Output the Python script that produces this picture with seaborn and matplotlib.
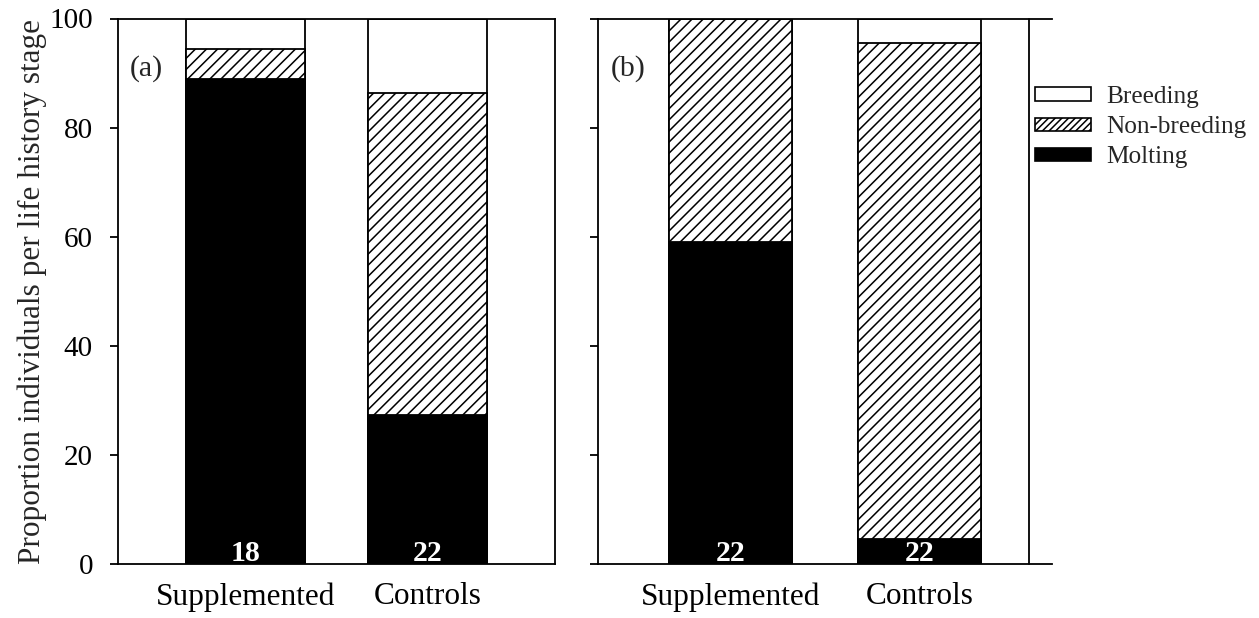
import matplotlib
matplotlib.use("Agg")
import matplotlib.pyplot as plt
import matplotlib.patches as mpatches
import numpy as np
import pandas as pd
import seaborn as sns

# Data (percent of individuals per life history stage)
groups = ["Supplemented", "Controls"]
molting_a = [88.9, 27.3]
nonbreeding_a = [5.5, 59.1]
breeding_a = [5.6, 13.6]
n_a = [18, 22]

molting_b = [59.1, 4.5]
nonbreeding_b = [40.9, 91.0]
breeding_b = [0.0, 4.5]
n_b = [22, 22]

panel_labels = ["(a)", "(b)"]
stages = ["Breeding", "Non-breeding", "Molting"]
y_ticks = [0, 20, 40, 60, 80, 100]

sns.set_theme(style="white")
plt.rcParams["font.family"] = ["Liberation Serif", "DejaVu Serif"]
plt.rcParams["hatch.color"] = "black"
plt.rcParams["hatch.linewidth"] = 1.1

fig = plt.figure(figsize=(12.59, 6.18), dpi=100)
ax_a = fig.add_axes([118 / 1259, 54 / 618, 437 / 1259, 545.5 / 618])
ax_b = fig.add_axes([598 / 1259, 54 / 618, 454 / 1259, 545.5 / 618])


def draw_panel(ax, molting, nonbreeding, breeding, counts, label):
    df = pd.DataFrame({
        "group": groups,
        "molting": molting,
        "nonbreeding": nonbreeding,
        "breeding": breeding,
    })
    df["cum_nb"] = df["molting"] + df["nonbreeding"]
    df["cum_all"] = df["cum_nb"] + df["breeding"]

    common = dict(x="group", order=groups, width=0.65, saturation=1,
                  edgecolor="black", linewidth=1.3, ax=ax)
    sns.barplot(data=df, y="cum_all", color="white", **common)
    sns.barplot(data=df, y="cum_nb", color="white", hatch="///", **common)
    sns.barplot(data=df, y="molting", color="black", **common)

    for i, n in enumerate(counts):
        ax.text(i, 0.6, str(n), ha="center", va="baseline", color="white",
                fontsize=21.5, fontweight="bold")

    ax.text(0.027, 0.908, label, transform=ax.transAxes, fontsize=21.5,
            ha="left", va="center")

    ax.set_xlim(-0.70, 1.70)
    ax.set_ylim(0, 100)
    ax.set_yticks(y_ticks)
    ax.set_xlabel("")
    ax.set_ylabel("")
    for side in ["top", "bottom", "left", "right"]:
        ax.spines[side].set_visible(True)
        ax.spines[side].set_color("black")
        ax.spines[side].set_linewidth(1.3)
    ax.tick_params(axis="y", direction="out", length=6, width=1.3,
                   labelsize=21, pad=12, left=True, colors="black")
    ax.tick_params(axis="x", length=0, labelsize=22.5, pad=13, colors="black")


draw_panel(ax_a, molting_a, nonbreeding_a, breeding_a, n_a, panel_labels[0])
draw_panel(ax_b, molting_b, nonbreeding_b, breeding_b, n_b, panel_labels[1])

ax_a.set_ylabel("Proportion individuals per life history stage", fontsize=22.5,
                labelpad=2)
ax_b.tick_params(axis="y", labelleft=False)

# panel b: right frame line sits inside the extended top/bottom lines
ax_b.spines["right"].set_visible(False)
ax_b.plot([0.949, 0.949], [0, 1], transform=ax_b.transAxes, color="black",
          lw=1.3, clip_on=False)

handles = [
    mpatches.Patch(facecolor="white", edgecolor="black", linewidth=1.2),
    mpatches.Patch(facecolor="white", edgecolor="black", linewidth=1.2, hatch="/////"),
    mpatches.Patch(facecolor="black", edgecolor="black", linewidth=1.2),
]
fig.legend(handles, stages, loc="upper left", bbox_to_anchor=(1035 / 1259, 1 - 86 / 618),
           frameon=False, fontsize=18.2, handlelength=2.2, handleheight=0.42,
           handletextpad=0.6, labelspacing=0.32, borderpad=0, borderaxespad=0)

fig.savefig("out.png", dpi=100)
